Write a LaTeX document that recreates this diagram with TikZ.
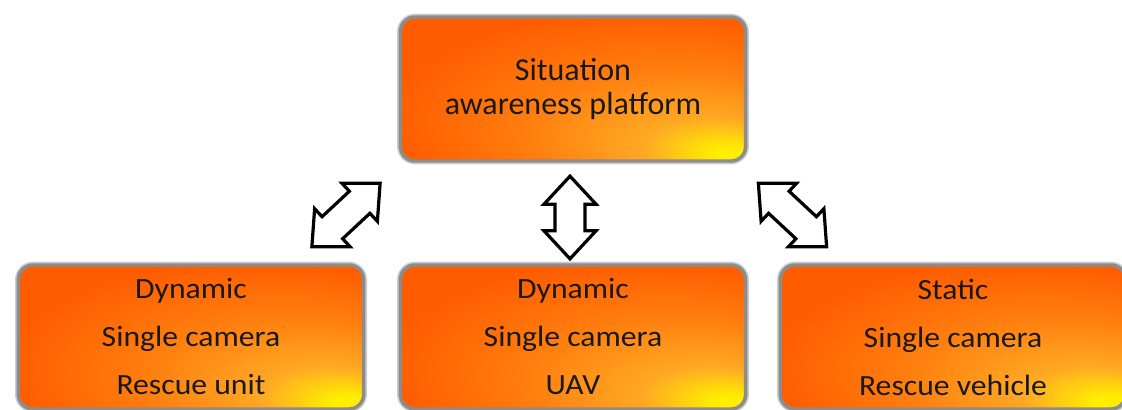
\documentclass[tikz,border=0pt]{standalone}
\usepackage{fontspec}
\setmainfont{Carlito}
\newfontfamily\widefont[FakeStretch=1.08]{Carlito}
\usetikzlibrary{calc}

\definecolor{deeporange}{RGB}{255,92,0}
\definecolor{midorange}{RGB}{255,126,14}
\definecolor{paleorange}{RGB}{255,168,36}
\definecolor{glowyellow}{RGB}{255,238,0}
\definecolor{rimgray}{RGB}{140,140,140}

%% glow in the lower right corner (path box = inner 50bp square)
\pgfdeclareradialshading{cornerglow}{\pgfpoint{24bp}{-24bp}}{%
color(0bp)=(glowyellow); color(2.5bp)=(glowyellow); color(10bp)=(paleorange);
color(22bp)=(midorange); color(36bp)=(deeporange); color(60bp)=(deeporange)}

\begin{document}
\begin{tikzpicture}[x=0.75pt, y=-0.75pt,
	box/.style={rectangle, rounded corners=11pt, draw=rimgray, line width=2.6pt,
		preaction={draw=black!20, line width=5pt},
		shading=cornerglow, minimum width=259pt, minimum height=108pt,
		align=center, text=black!90, inner sep=0pt},
	link/.style={draw=black, fill=white, line width=2.4pt, line join=miter}]
					%%
\useasboundingbox (0,0) rectangle (1122,410);

\coordinate (t) at (573,89);
\coordinate (b1) at (191,337);
\coordinate (b2) at (573,337);
\coordinate (b3) at (953,337);
\coordinate (a1) at (346,215);
\coordinate (a2) at (570,217.5);
\coordinate (a3) at (792.5,215);

\node[box, font=\fontsize{24}{25.5}\selectfont] (platform) at (t) {Situation\\awareness platform};

\node[box, font=\widefont\fontsize{22}{36}\selectfont] (unit) at (b1) {Dynamic\\Single camera\\Rescue unit};
\node[box, font=\widefont\fontsize{22}{36}\selectfont] (uav) at (b2) {Dynamic\\Single camera\\UAV};
\node[box, font=\widefont\fontsize{22}{36}\selectfont] (vehicle) at (b3) {Static\\Single camera\\Rescue vehicle};

%% double block arrows: centre / angle / half length (pt)
\foreach \c/\r/\h in {a1/43/35, a2/90/31, a3/-43/35}
\draw[link, shift={(\c)}, rotate=\r]
	(-\h pt,0pt) -- ++(21pt,19.5pt) -- ++(0pt,-8.2pt)
	-- (\h pt-21pt,11.3pt) -- ++(0pt,8.2pt) -- (\h pt,0pt)
	-- ++(-21pt,-19.5pt) -- ++(0pt,8.2pt)
	-- (-\h pt+21pt,-11.3pt) -- ++(0pt,-8.2pt) -- cycle;
				\end{tikzpicture}
\end{document}
